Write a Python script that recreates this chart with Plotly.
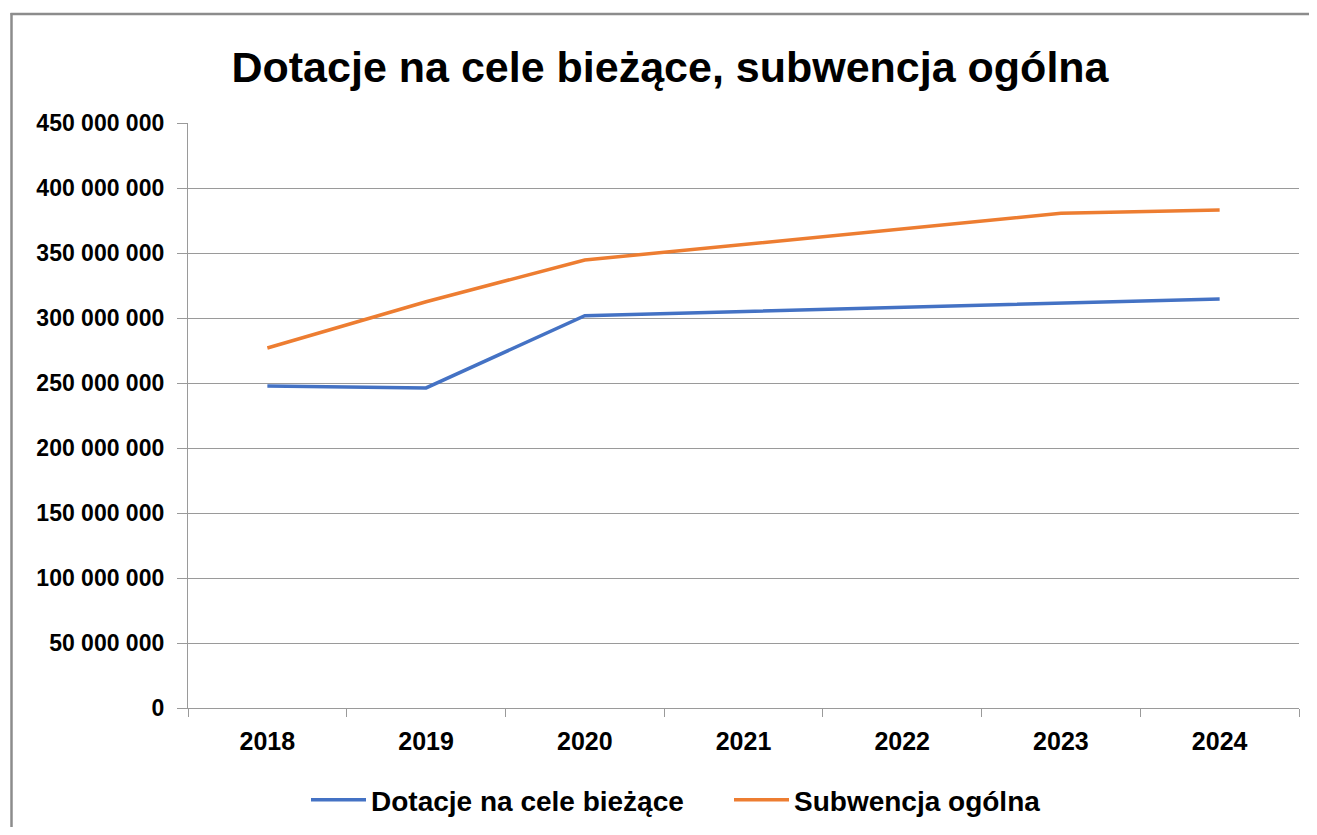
import plotly.graph_objects as go

years = ["2018", "2019", "2020", "2021", "2022", "2023", "2024"]
dotacje = [247_700_000, 246_200_000, 301_800_000, 305_000_000, 308_200_000, 311_500_000, 314_600_000]
subwencja = [276_900_000, 312_500_000, 344_600_000, 356_500_000, 368_300_000, 380_500_000, 383_100_000]
y_ticks = [0, 50_000_000, 100_000_000, 150_000_000, 200_000_000, 250_000_000,
           300_000_000, 350_000_000, 400_000_000, 450_000_000]

# page has an 8px body margin: figure coordinates = page coordinates - 8
OFF = 8
W, H = 1317 - 2 * OFF, 835 - 2 * OFF
L, R, T, B = 188 - OFF, 1299 - OFF, 123 - OFF, 708 - OFF

FONT = "Liberation Sans, Arial"

fig = go.Figure()
fig.add_trace(go.Scatter(x=years, y=dotacje, mode="lines", name="Dotacje na cele bieżące",
                         line=dict(color="#4472C4", width=3.5)))
fig.add_trace(go.Scatter(x=years, y=subwencja, mode="lines", name="Subwencja ogólna",
                         line=dict(color="#ED7D31", width=3.5)))

def px_x(p):
    return (p - OFF - L) / (R - L)

def px_y(p):
    return (B - (p - OFF)) / (B - T)

# chart frame (only the top and left sides are inside the picture)
border = dict(color="#8c8c8c", width=2.5)
fig.add_shape(type="line", xref="paper", yref="paper",
              x0=px_x(10.5), x1=px_x(OFF + W), y0=px_y(14), y1=px_y(14), line=border, layer="below")
fig.add_shape(type="line", xref="paper", yref="paper",
              x0=px_x(11.5), x1=px_x(11.5), y0=px_y(13), y1=px_y(OFF + H), line=border, layer="below")

fig.update_layout(
    width=W, height=H,
    margin=dict(l=L, r=W - R, t=T, b=H - B),
    paper_bgcolor="white", plot_bgcolor="white",
    separators=", ",
    showlegend=True,
    title=dict(text="Dotacje na cele bieżące, subwencja ogólna",
               font=dict(family=FONT, size=43, color="black", weight="bold"),
               x=(670 - OFF) / W, xanchor="center", xref="container",
               y=1 - (67 - OFF) / H, yanchor="middle", yref="container"),
    legend=dict(orientation="h", x=(312 - OFF - 6) / W, xanchor="left", xref="container",
                y=1 - (800 - OFF) / H, yanchor="middle", yref="container",
                font=dict(family=FONT, size=28, color="black", weight="bold"),
                itemwidth=55, entrywidth=353, entrywidthmode="pixels",
                bgcolor="rgba(0,0,0,0)"),
    xaxis=dict(type="category", range=[-0.5, 6.5], showgrid=False,
               showline=True, linecolor="#9a9a9a", linewidth=1.3,
               ticks="outside", tickson="boundaries", ticklen=8, tickcolor="#9a9a9a",
               tickfont=dict(family=FONT, size=25, color="black", weight="bold"),
               ticklabelstandoff=11),
    yaxis=dict(range=[0, 450_000_000], tickvals=y_ticks, tickformat=",d",
               showgrid=True, gridcolor="#9a9a9a", gridwidth=1.3,
               showline=True, linecolor="#9a9a9a", linewidth=1.3,
               ticks="outside", ticklen=10, tickcolor="#9a9a9a",
               tickfont=dict(family=FONT, size=23, color="black", weight="bold"),
               ticklabelstandoff=8, zeroline=False),
)

fig.write_html("out.html")
